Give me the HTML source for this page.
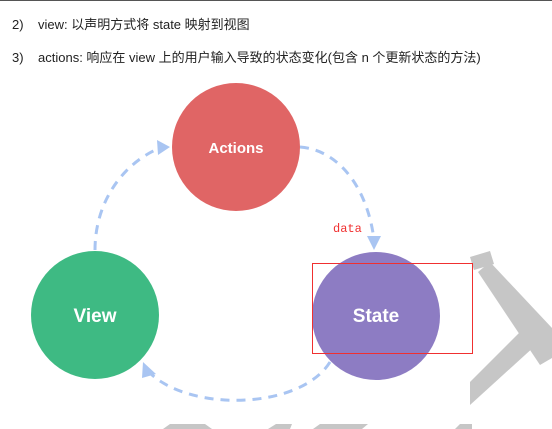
<!DOCTYPE html>
<html><head><meta charset="utf-8"><style>
body{margin:0;width:552px;height:429px;background:#fff;overflow:hidden;position:relative;font-family:"Liberation Sans","Noto Sans CJK SC",sans-serif}
.t{position:absolute;left:12px;font-size:13px;color:#222}
</style></head><body>
<div style="position:absolute;left:0;top:0;width:552px;height:1px;background:#555"></div>
<div class="t" style="top:14px">2)&nbsp;&nbsp;&nbsp;&nbsp;view: 以声明方式将 state 映射到视图</div>
<div class="t" style="top:47px">3)&nbsp;&nbsp;&nbsp;&nbsp;actions: 响应在 view 上的用户输入导致的状态变化(包含 n 个更新状态的方法)</div>
<svg width="552" height="429" style="position:absolute;left:0;top:0">
<g fill="#c6c6c6">
<polygon points="470,257 490,251 494,264 474,270"/>
<polygon points="478,272 490,262 552,328 552,358 540,365"/>
<polygon points="522,330 536,345 470,405 470,382"/>
<polygon points="163,429 170,424 205,424 212,429"/>
<polygon points="268,429 276,424 292,424 290,429"/>
<polygon points="313,429 320,424 368,424 362,429"/>
<polygon points="455,429 460,424 472,424 472,429"/>
</g>
<g fill="none" stroke="#a9c5f2" stroke-width="3" stroke-dasharray="9,7">
<path d="M95,250 C95,200 125,162 160,148"/>
<path d="M300,147 C340,150 368,190 374,240"/>
<path d="M330,362 C300,410 190,412 150,373"/>
</g>
<g fill="#a9c5f2">
<polygon points="170,147 157,140 158,155"/>
<polygon points="374,250 367,236 381,236"/>
<polygon points="143,362 142,378 156,374"/>
</g>
<circle cx="236" cy="147" r="64" fill="#e06565"/>
<circle cx="95" cy="315" r="64" fill="#3eba83"/>
<circle cx="376" cy="316" r="64" fill="#8d7cc3"/>
<g fill="#fff" font-family="Liberation Sans,sans-serif" font-weight="bold" text-anchor="middle">
<text x="236" y="153" font-size="15">Actions</text>
<text x="95" y="322" font-size="19">View</text>
<text x="376" y="322" font-size="19">State</text>
</g>
<text x="333" y="232" font-family="Liberation Mono,monospace" font-size="12" fill="#f03030">data</text>
<rect x="312.5" y="263.5" width="160" height="90" fill="none" stroke="#f03030" stroke-width="1"/>
</svg>
</body></html>
